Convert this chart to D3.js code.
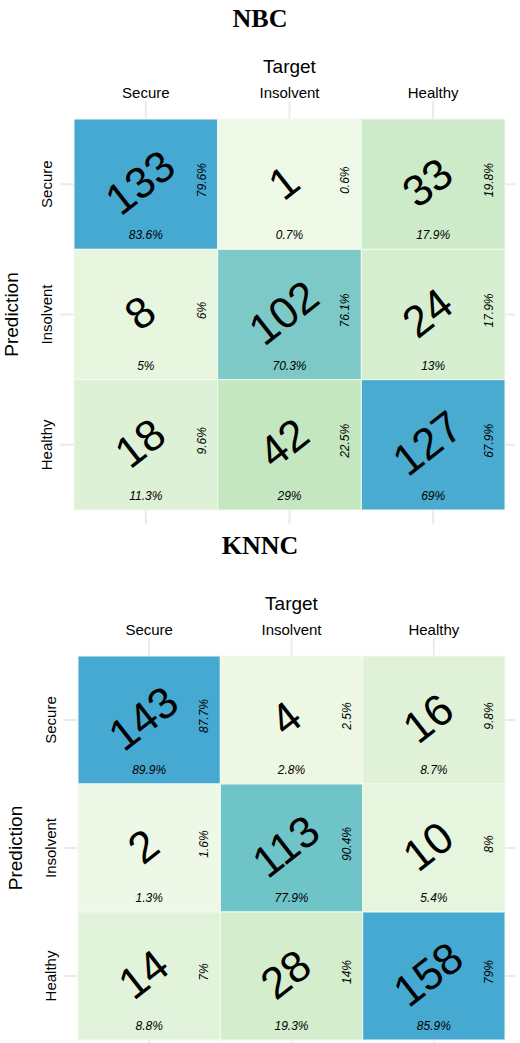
<!DOCTYPE html><html><head><meta charset="utf-8">
<script src="https://cdn.jsdelivr.net/npm/d3@7"></script>
<style>body{margin:0;background:#fff}</style></head><body>
<svg id="c" width="520" height="1043"></svg>
<script>
const classes = ["Secure","Insolvent","Healthy"];
const titles = ["NBC","KNNC"];
const nbcCounts = [[133,1,33],[8,102,24],[18,42,127]];
const nbcRowPct = [["79.6%","0.6%","19.8%"],["6%","76.1%","17.9%"],["9.6%","22.5%","67.9%"]];
const nbcColPct = [["83.6%","0.7%","17.9%"],["5%","70.3%","13%"],["11.3%","29%","69%"]];
const knnCounts = [[143,4,16],[2,113,10],[14,28,158]];
const knnRowPct = [["87.7%","2.5%","9.8%"],["1.6%","90.4%","8%"],["7%","14%","79%"]];
const knnColPct = [["89.9%","2.8%","8.7%"],["1.3%","77.9%","5.4%"],["8.8%","19.3%","85.9%"]];

const svg = d3.select("#c");
const color = d3.scaleLinear().domain([0,40,115,128]).range(["#f0f9e8","#c6e8c1","#6dc3c8","#46a9d1"]).clamp(true);

function panel(title, counts, rowPct, colPct, L) {
  const g = svg.append("g");
  g.append("text").attr("x",260).attr("y",L.titleY).attr("text-anchor","middle")
    .attr("font-family","Liberation Serif").attr("font-weight","bold").attr("font-size",26).text(title);
  const x = d3.scaleBand().domain(classes).range([L.x0,505]);
  const y = d3.scaleBand().domain(classes).range([L.y0,L.y1]);
  classes.forEach(c=>{
    g.append("line").attr("x1",x(c)+x.bandwidth()/2).attr("x2",x(c)+x.bandwidth()/2)
      .attr("y1",L.y0-18).attr("y2",L.y1+14).attr("stroke","#ebebeb").attr("stroke-width",2);
    g.append("line").attr("y1",y(c)+y.bandwidth()/2).attr("y2",y(c)+y.bandwidth()/2)
      .attr("x1",L.x0-14).attr("x2",515).attr("stroke","#ebebeb").attr("stroke-width",2);
  });
  g.append("text").attr("x",(L.x0+505)/2).attr("y",L.y0-46).attr("text-anchor","middle")
    .attr("font-family","Liberation Sans").attr("font-size",19).text("Target");
  classes.forEach(c=>{
    g.append("text").attr("x",x(c)+x.bandwidth()/2).attr("y",L.y0-21).attr("text-anchor","middle")
      .attr("font-family","Liberation Sans").attr("font-size",15).text(c);
    const cy=y(c)+y.bandwidth()/2;
    g.append("text").attr("transform",`translate(${L.x0-22},${cy}) rotate(-90)`).attr("text-anchor","middle")
      .attr("font-family","Liberation Sans").attr("font-size",15).text(c);
  });
  g.append("text").attr("transform",`translate(${L.x0-56},${(L.y0+L.y1)/2}) rotate(-90)`).attr("text-anchor","middle")
    .attr("font-family","Liberation Sans").attr("font-size",19).text("Prediction");
  counts.forEach((row,i)=>row.forEach((v,j)=>{
    const cx=x(classes[j]), cy=y(classes[i]), w=x.bandwidth(), h=y.bandwidth();
    g.append("rect").attr("x",cx).attr("y",cy).attr("width",w).attr("height",h)
      .attr("fill",color(v)).attr("stroke","#f4f9f0").attr("stroke-width",1);
    g.append("text").attr("transform",`translate(${cx+w/2-6},${cy+h/2-2}) rotate(-38)`)
      .attr("text-anchor","middle").attr("dominant-baseline","central")
      .attr("font-family","Liberation Sans").attr("font-size",44).text(v);
    g.append("text").attr("transform",`translate(${cx+w-16},${cy+h/2-4}) rotate(-90)`)
      .attr("text-anchor","middle").attr("dominant-baseline","central")
      .attr("font-family","Liberation Sans").attr("font-style","italic").attr("font-size",12).text(rowPct[i][j]);
    g.append("text").attr("x",cx+w/2).attr("y",cy+h-10).attr("text-anchor","middle")
      .attr("font-family","Liberation Sans").attr("font-style","italic").attr("font-size",12).text(colPct[i][j]);
  }));
}
panel(titles[0], nbcCounts, nbcRowPct, nbcColPct, {titleY:27,x0:74,y0:119,y1:510});
panel(titles[1], knnCounts, knnRowPct, knnColPct, {titleY:554,x0:78,y0:656,y1:1040});
</script></body></html>
